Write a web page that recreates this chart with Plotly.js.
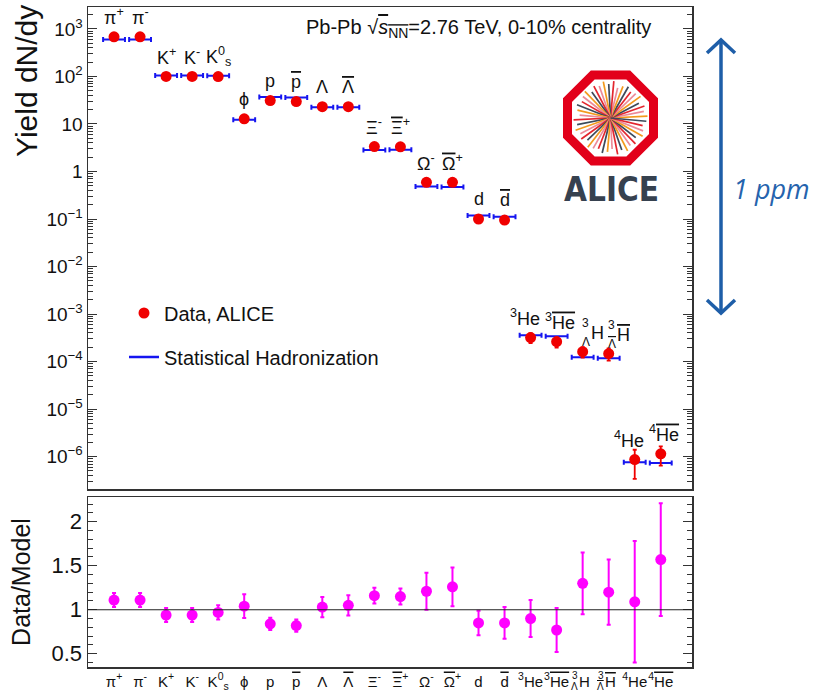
<!DOCTYPE html>
<html>
<head>
<meta charset="utf-8">
<script src="https://cdn.plot.ly/plotly-3.0.1.min.js"></script>
<style>html,body{margin:0;padding:0;background:#fff;}</style>
</head>
<body>
<div id="chart" style="width:813px;height:695px;"></div>
<script>
// ---- data ----
const OL = s => '<span style="text-decoration:overline">' + s + '</span>';
const particles = ['π<sup>+</sup>','π<sup>-</sup>','K<sup>+</sup>','K<sup>-</sup>','K<sup>0</sup><sub>s</sub>','ϕ','p',
  OL('p'),'Λ',OL('Λ'),'Ξ<sup>-</sup>',OL('Ξ') + '<sup>+</sup>','Ω<sup>-</sup>',OL('Ω') + '<sup>+</sup>','d',OL('d'),
  '<sup>3</sup>He','<sup>3</sup>' + OL('He'),
  '<sup>3</sup><sub>Λ</sub>H','<sup>3</sup><sub>' + OL('Λ') + '</sub>' + OL('H'),
  '<sup>4</sup>He','<sup>4</sup>' + OL('He')];
const yieldData = [680, 680, 100, 100, 99, 12.8, 31, 29.5, 23.1, 23.1, 3.34, 3.3, 0.59, 0.59, 0.1, 0.095,
  3.2e-4, 2.63e-4, 1.62e-4, 1.47e-4, 8.7e-7, 1.15e-6];
const yieldErr = [50, 50, 8, 8, 8, 1.5, 2.5, 2.5, 2.5, 2.5, 0.3, 0.3, 0.08, 0.08, 0.015, 0.015,
  0.75e-4, 0.65e-4, 0.4e-4, 0.42e-4, 5.3e-7, 5.0e-7];
const yieldModel = [597, 597, 104, 104, 103, 12.2, 37, 36, 22.4, 22.4, 2.84, 2.87, 0.48, 0.47, 0.118, 0.112,
  3.57e-4, 3.4e-4, 1.23e-4, 1.17e-4, 7.6e-7, 7.4e-7];
const ratio = [1.11, 1.11, 0.94, 0.94, 0.97, 1.04, 0.84, 0.82, 1.03, 1.05, 1.16, 1.15, 1.21, 1.26, 0.85, 0.85,
  0.90, 0.77, 1.30, 1.20, 1.09, 1.57];
const ratioErr = [0.08, 0.08, 0.08, 0.08, 0.08, 0.135, 0.07, 0.07, 0.115, 0.115, 0.09, 0.09, 0.21, 0.22, 0.14, 0.18,
  0.21, 0.25, 0.35, 0.37, 0.69, 0.64];
const yTickVals = [1e3, 1e2, 10, 1, 0.1, 1e-2, 1e-3, 1e-4, 1e-5, 1e-6];
const yTickText = ['10<sup>3</sup>','10<sup>2</sup>','10','1','10<sup>−1</sup>','10<sup>−2</sup>','10<sup>−3</sup>','10<sup>−4</sup>','10<sup>−5</sup>','10<sup>−6</sup>'];
const rTickVals = [0.5, 1, 1.5, 2];
const rTickText = ['0.5', '1', '1.5', '2'];

const idx = particles.map((_, i) => i);
const FONT = 'Liberation Sans, Arial, Helvetica, sans-serif';
const BLUE = '#1515f0', RED = '#f00000', MAG = '#ff00ff', INK = '#111';

// plot geometry (pixels)
const W = 813, H = 695, L = 88, R = 692, T = 7, B = 667;
const px2x = p => (p - L) / (R - L);
const py2y = p => (B - p) / (B - T);

const traces = [
  { x: idx, y: yieldModel, type: 'scatter', mode: 'markers', xaxis: 'x', yaxis: 'y',
    marker: { size: 0.1, color: BLUE, opacity: 0 }, showlegend: false, hoverinfo: 'skip',
    error_x: { type: 'constant', value: 0.42, color: BLUE, thickness: 2, width: 2.5 } },
  { x: idx, y: yieldData, type: 'scatter', mode: 'markers', xaxis: 'x', yaxis: 'y',
    marker: { size: 11, color: RED }, showlegend: false,
    error_y: { type: 'data', array: yieldErr, visible: true, color: RED, thickness: 1.8, width: 2 } },
  { x: idx, y: ratio, type: 'scatter', mode: 'markers', xaxis: 'x2', yaxis: 'y2',
    marker: { size: 11, color: MAG }, showlegend: false,
    error_y: { type: 'data', array: ratioErr, visible: true, color: MAG, thickness: 2, width: 2 } },
  // legend entries
  { x: [null], y: [null], type: 'scatter', mode: 'markers', name: 'Data, ALICE', legend: 'legend',
    marker: { size: 11, color: RED }, xaxis: 'x', yaxis: 'y' },
  { x: [null], y: [null], type: 'scatter', mode: 'lines', name: 'Statistical Hadronization', legend: 'legend2',
    line: { color: BLUE, width: 2.5 }, xaxis: 'x', yaxis: 'y' }
];

// labels with a stacked pre-superscript / pre-subscript (hypernuclei)
const stackRe = /^<sup>(\d)<\/sup><sub>(.*?)<\/sub>(.*)$/;
const annotations = [];
const bottomTickText = particles.map(t => stackRe.test(t) ? '' : t);
particles.forEach((t, i) => {
  const yl = Math.log10(yieldData[i]);
  const m = t.match(stackRe);
  if (m) {
    // top panel label
    annotations.push({ x: i, y: yl, xref: 'x', yref: 'y', text: m[3], showarrow: false, xshift: 15, yshift: 19,
      xanchor: 'center', yanchor: 'middle', font: { family: FONT, size: 18, color: INK } });
    annotations.push({ x: i, y: yl, xref: 'x', yref: 'y', text: m[1], showarrow: false, xshift: 3, yshift: 29,
      xanchor: 'center', yanchor: 'middle', font: { family: FONT, size: 12, color: INK } });
    annotations.push({ x: i, y: yl, xref: 'x', yref: 'y', text: m[2], showarrow: false, xshift: 3, yshift: 10,
      xanchor: 'center', yanchor: 'middle', font: { family: FONT, size: 12, color: INK } });
    // bottom axis label
    annotations.push({ x: i, y: 0, xref: 'x2', yref: 'paper', text: m[3], showarrow: false, xshift: 2, yshift: -14,
      xanchor: 'center', yanchor: 'middle', font: { family: FONT, size: 15, color: INK } });
    annotations.push({ x: i, y: 0, xref: 'x2', yref: 'paper', text: m[1], showarrow: false, xshift: -8, yshift: -8,
      xanchor: 'center', yanchor: 'middle', font: { family: FONT, size: 10, color: INK } });
    annotations.push({ x: i, y: 0, xref: 'x2', yref: 'paper', text: m[2], showarrow: false, xshift: -8, yshift: -19,
      xanchor: 'center', yanchor: 'middle', font: { family: FONT, size: 10, color: INK } });
  } else {
    let xs = 0;
    if (t.startsWith('<sup>')) xs = t.includes('overline') ? 3 : -6;
    annotations.push({ x: i, y: yl, xref: 'x', yref: 'y', text: t, showarrow: false,
      yshift: 20, xshift: xs, xanchor: 'center', yanchor: 'middle',
      font: { family: FONT, size: 18, color: INK } });
  }
});
annotations.push({ x: px2x(27), y: py2y(81), xref: 'paper', yref: 'paper', text: 'Yield dN/dy', textangle: -90,
  xanchor: 'center', yanchor: 'middle', showarrow: false, font: { family: FONT, size: 30, color: INK } });
annotations.push({ x: px2x(653), y: py2y(29), xref: 'paper', yref: 'paper', xanchor: 'right', yanchor: 'middle',
  text: 'Pb-Pb √' + OL('<i>s</i><sub>NN</sub>') + '=2.76 TeV, 0-10% centrality',
  showarrow: false, font: { family: FONT, size: 20, color: INK } });
annotations.push({ x: px2x(611), y: py2y(189), xref: 'paper', yref: 'paper', text: '<b>ALICE</b>',
  xanchor: 'center', yanchor: 'middle',
  showarrow: false, font: { family: 'DejaVu Sans Condensed, DejaVu Sans, sans-serif', size: 33, color: '#36414f' } });
annotations.push({ x: px2x(771), y: py2y(188), xref: 'paper', yref: 'paper', text: '<i>1 ppm</i>',
  xanchor: 'center', yanchor: 'middle',
  showarrow: false, font: { family: 'Open Sans, Liberation Sans, sans-serif', size: 27, color: '#2563ad' } });

const shapes = [];
// ratio = 1 line
shapes.push({ type: 'line', xref: 'x2 domain', yref: 'y2', x0: 0, x1: 1, y0: 1, y1: 1, line: { color: '#222', width: 1 } });
// 1 ppm arrow
const AB = '#1e5ea8';
const ax = 721, ay0 = 40, ay1 = 313;
shapes.push({ type: 'line', xref: 'paper', yref: 'paper', x0: px2x(ax), x1: px2x(ax), y0: py2y(ay0), y1: py2y(ay1), line: { color: AB, width: 3.5 } });
shapes.push({ type: 'path', xref: 'paper', yref: 'paper', line: { color: AB, width: 3.5 },
  path: `M${px2x(ax-14)},${py2y(ay0+13)} L${px2x(ax)},${py2y(ay0)} L${px2x(ax+14)},${py2y(ay0+13)}` });
shapes.push({ type: 'path', xref: 'paper', yref: 'paper', line: { color: AB, width: 3.5 },
  path: `M${px2x(ax-14)},${py2y(ay1-13)} L${px2x(ax)},${py2y(ay1)} L${px2x(ax+14)},${py2y(ay1-13)}` });
// ALICE logo: octagon + rays
const cx = 610.5, cy = 118;
const rayCols = ['#f39a1e', '#3d4a5a', '#e3262e', '#ec8a98'];
const rayLens = [37, 34, 36, 32, 37, 35, 33, 36, 34, 31, 37, 34];
for (let k = 0; k < 44; k++) {
  const a = (k * 360 / 44 + 3) * Math.PI / 180;
  const r = rayLens[k % rayLens.length];
  shapes.push({ type: 'line', xref: 'paper', yref: 'paper', x0: px2x(cx), y0: py2y(cy),
    x1: px2x(cx + r * Math.cos(a)), y1: py2y(cy - r * Math.sin(a)), line: { color: rayCols[(k * 3) % 4], width: 1.7 } });
}
let oct = '';
const rv = 43 / Math.cos(Math.PI / 8);
for (let k = 0; k < 8; k++) {
  const a = (22.5 + k * 45) * Math.PI / 180;
  oct += (k === 0 ? 'M' : 'L') + px2x(cx + rv * Math.cos(a)) + ',' + py2y(cy - rv * Math.sin(a)) + ' ';
}
oct += 'Z';
shapes.push({ type: 'path', xref: 'paper', yref: 'paper', path: oct, line: { color: '#e2001a', width: 9 } });

const frame = '#333';
const layout = {
  width: W, height: H, paper_bgcolor: '#fff', plot_bgcolor: '#fff',
  margin: { l: L, r: W - R, t: T, b: H - B, pad: 0 },
  font: { family: FONT, color: INK },
  xaxis: { domain: [0, 1], anchor: 'y', range: [-1, 22.2], showticklabels: false, ticks: '',
    showline: true, mirror: true, linecolor: frame, linewidth: 1.5, showgrid: false, zeroline: false },
  yaxis: { domain: [py2y(489), 1], anchor: 'x', type: 'log', range: [-6.68, 3.46],
    tickmode: 'array', tickvals: yTickVals, ticktext: yTickText, ticks: 'inside', ticklen: 9, tickcolor: frame,
    minor: { ticks: 'inside', ticklen: 5, dtick: 'D1', tickcolor: frame, showgrid: false },
    tickfont: { family: FONT, size: 19, color: INK },
    showline: true, mirror: 'allticks', linecolor: frame, linewidth: 1.5, showgrid: false, zeroline: false },
  xaxis2: { domain: [0, 1], anchor: 'y2', range: [-1, 22.2], tickmode: 'array', tickvals: idx, ticktext: bottomTickText,
    tickangle: 0, ticks: '', tickfont: { family: FONT, size: 15, color: INK }, ticklabelstandoff: 0,
    showline: true, mirror: true, linecolor: frame, linewidth: 1.5, showgrid: false, zeroline: false },
  yaxis2: { domain: [0, py2y(497)], anchor: 'x2', range: [0.35, 2.28],
    tickmode: 'array', tickvals: rTickVals, ticktext: rTickText, ticks: 'inside', ticklen: 9, tickcolor: frame,
    minor: { ticks: 'inside', ticklen: 5, dtick: 0.1, tickcolor: frame, showgrid: false },
    tickfont: { family: FONT, size: 22, color: INK },
    title: { text: 'Data/Model', font: { family: FONT, size: 25, color: INK }, standoff: 14 },
    showline: true, mirror: 'allticks', linecolor: frame, linewidth: 1.5, showgrid: false, zeroline: false },
  legend: { x: px2x(124), y: py2y(313), xanchor: 'left', yanchor: 'middle', bgcolor: 'rgba(0,0,0,0)',
    font: { family: FONT, size: 20, color: INK } },
  legend2: { x: px2x(124), y: py2y(357), xanchor: 'left', yanchor: 'middle', bgcolor: 'rgba(0,0,0,0)',
    font: { family: FONT, size: 20, color: INK } },
  annotations: annotations, shapes: shapes, showlegend: true
};
Plotly.newPlot('chart', traces, layout, { displayModeBar: false, staticPlot: true });
</script>
</body>
</html>
